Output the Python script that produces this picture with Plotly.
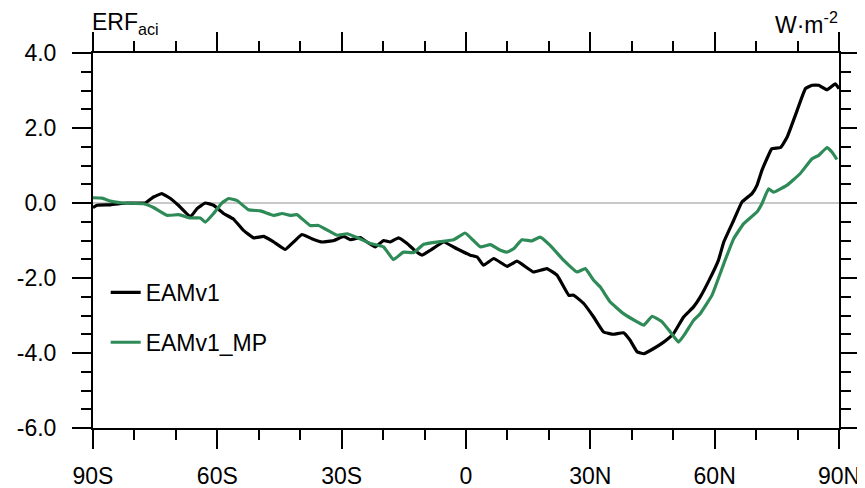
import plotly.graph_objects as go

# ---- data ----
eam_lat = [-90.0, -89.0, -85.8, -81.8, -77.4, -75.4, -73.4, -71.3, -69.4, -66.5, -64.9, -62.9, -60.9,
           -58.5, -56.1, -53.7, -51.2, -48.8, -46.4, -43.6, -41.6, -39.6, -37.2, -34.7, -31.9, -29.5,
           -27.9, -25.5, -23.9, -21.9, -19.9, -18.3, -16.3, -14.2, -12.2, -10.6, -8.6, -5.4, -2.2,
           1.0, 2.7, 4.2, 6.7, 9.9, 12.3, 16.3, 19.5, 22.0, 24.8, 26.0, 28.4, 30.8, 33.2, 35.6, 38.0,
           39.6, 41.3, 42.9, 45.3, 47.7, 50.1, 52.5, 54.9, 56.5, 58.7, 60.9, 62.2, 64.6, 66.6, 69.0,
           70.2, 71.4, 72.6, 73.8, 75.9, 77.5, 79.9, 81.9, 83.5, 85.1, 87.1, 89.1, 90.0]
eam_val = [-0.12, -0.06, -0.05, 0.0, 0.0, 0.16, 0.25, 0.12, -0.06, -0.37, -0.15, 0.0, -0.06,
           -0.28, -0.43, -0.73, -0.93, -0.89, -1.04, -1.24, -1.04, -0.84, -0.95, -1.04, -1.0, -0.89,
           -0.98, -0.92, -1.04, -1.17, -1.0, -1.04, -0.93, -1.08, -1.28, -1.39, -1.26, -1.04, -1.22,
           -1.39, -1.44, -1.66, -1.48, -1.69, -1.55, -1.84, -1.75, -1.93, -2.46, -2.46, -2.68, -3.04,
           -3.44, -3.50, -3.46, -3.66, -3.97, -4.02, -3.88, -3.71, -3.48, -3.04, -2.77, -2.51, -2.05,
           -1.53, -1.04, -0.46, 0.03, 0.25, 0.47, 0.87, 1.18, 1.45, 1.48, 1.76, 2.47, 3.05, 3.14,
           3.14, 3.02, 3.18, 3.05]

mp_lat = [-90.0, -87.8, -85.8, -82.6, -77.8, -75.4, -72.1, -69.3, -66.5, -64.1, -62.9, -60.9, -58.9,
          -57.3, -55.3, -52.5, -49.6, -46.4, -44.4, -42.4, -40.8, -37.6, -35.6, -32.7, -31.1, -28.7,
          -26.3, -23.1, -19.9, -17.5, -15.1, -12.6, -10.2, -6.2, -3.0, -0.2, 1.8, 3.5, 5.9, 8.3, 9.9,
          11.5, 13.5, 15.9, 17.9, 20.3, 23.6, 26.8, 28.8, 30.8, 32.4, 34.8, 38.0, 41.3, 42.9, 44.9,
          47.3, 49.3, 51.3, 52.9, 54.9, 56.5, 59.4, 62.5, 64.6, 67.0, 70.2, 71.4, 73.0, 74.2, 77.4,
          80.6, 83.5, 85.1, 87.1, 88.3, 89.5]
mp_val = [0.14, 0.13, 0.05, 0.0, -0.02, -0.12, -0.33, -0.31, -0.40, -0.40, -0.51, -0.28, 0.0,
          0.12, 0.07, -0.18, -0.21, -0.33, -0.28, -0.33, -0.31, -0.60, -0.60, -0.77, -0.86, -0.82,
          -0.92, -1.08, -1.17, -1.51, -1.31, -1.32, -1.10, -1.03, -0.98, -0.80, -1.00, -1.17, -1.11,
          -1.26, -1.31, -1.22, -0.98, -1.01, -0.91, -1.13, -1.53, -1.84, -1.75, -2.06, -2.24, -2.64,
          -2.95, -3.17, -3.26, -3.02, -3.17, -3.44, -3.71, -3.48, -3.13, -2.95, -2.45, -1.53, -0.95,
          -0.55, -0.24, -0.02, 0.38, 0.29, 0.47, 0.78, 1.18, 1.27, 1.48, 1.36, 1.16]

x_tickvals = [-90, -60, -30, 0, 30, 60, 90]
x_ticktext = ["90S", "60S", "30S", "0", "30N", "60N", "90N"]
y_tickvals = [-6, -4, -2, 0, 2, 4]
y_ticktext = ["-6.0", "-4.0", "-2.0", "0.0", "2.0", "4.0"]

FONT = "Liberation Sans, Arial, Helvetica, sans-serif"
FS = 23

fig = go.Figure()
fig.add_trace(go.Scatter(x=eam_lat, y=eam_val, mode="lines", name="EAMv1",
                         line=dict(color="#000000", width=3.2, shape="spline", smoothing=0.3),
                         legendgroup="a"))
fig.add_trace(go.Scatter(x=mp_lat, y=mp_val, mode="lines", name="EAMv1_MP",
                         line=dict(color="#2E8B57", width=3.2, shape="spline", smoothing=0.3),
                         legendgroup="b"))

axis_common = dict(
    showline=True, linecolor="black", linewidth=2, mirror="ticks",
    ticks="outside", ticklen=19, tickwidth=2, tickcolor="black",
    showgrid=False, automargin=False,
    tickfont=dict(family=FONT, size=FS, color="black"),
)

fig.update_xaxes(range=[-90, 90], tickvals=x_tickvals, ticktext=x_ticktext,
                 zeroline=False, ticklabelstandoff=7,
                 minor=dict(dtick=10, ticks="outside", ticklen=10, tickwidth=1.5, tickcolor="black",
                            showgrid=False),
                 **axis_common)
fig.update_yaxes(range=[-6, 4], tickvals=y_tickvals, ticktext=y_ticktext,
                 zeroline=True, zerolinecolor="#c8c8c8", zerolinewidth=2, ticklabelstandoff=11,
                 minor=dict(dtick=0.5, ticks="outside", ticklen=10, tickwidth=1.5, tickcolor="black",
                            showgrid=False),
                 **axis_common)

fig.add_annotation(text="ERF<sub>aci</sub>", xref="paper", yref="paper", x=-0.004, y=1.034,
                   xanchor="left", yanchor="bottom", showarrow=False,
                   font=dict(family=FONT, size=FS, color="black"))
fig.add_annotation(text="W·m<sup>-2</sup>", xref="paper", yref="paper", x=1.002, y=1.034,
                   xanchor="right", yanchor="bottom", showarrow=False,
                   font=dict(family=FONT, size=FS, color="black"))

# the page body adds an 8px offset, so the figure is 8px smaller than the window
fig.update_layout(
    width=857, height=480,
    margin=dict(l=85, r=26, t=45, b=60),
    paper_bgcolor="white", plot_bgcolor="white",
    showlegend=True,
    legend=dict(x=0.017, y=0.419, xanchor="left", yanchor="top",
                bgcolor="rgba(0,0,0,0)", borderwidth=0,
                font=dict(family=FONT, size=FS, color="black"),
                tracegroupgap=17, itemwidth=30),
    font=dict(family=FONT),
)

fig.write_html("out.html")
